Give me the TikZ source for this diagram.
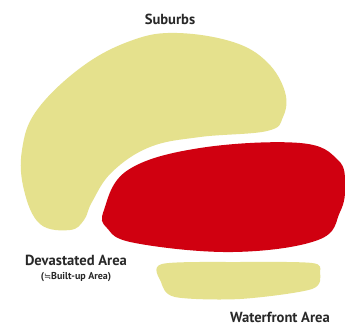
\documentclass[tikz,border=0pt]{standalone}
\usepackage{fontspec}
\setmainfont{PT Sans}
\newfontfamily\symfont{DejaVu Sans}
\definecolor{blobyellow}{RGB}{229,225,141}
\definecolor{blobred}{RGB}{208,0,16}
\definecolor{txt}{RGB}{40,40,40}
\begin{document}
\begin{tikzpicture}[x=1pt,y=-1pt,
  lbl/.style={text=txt,font=\bfseries\fontsize{14.6}{16}\selectfont,inner sep=0pt},
  sublbl/.style={text=txt,font=\bfseries\fontsize{10}{12}\selectfont,inner sep=0pt}]
\useasboundingbox (0,0) rectangle (345,329);
\fill[white] (0,0) rectangle (345,329);
% suburbs blob
\fill[blobyellow] plot[smooth cycle,tension=0.65] coordinates {
 (177,33) (233,42) (267,62) (285,92) (283,117) (267,131) (200,137)
 (150,147) (112,172) (92,202) (84,220) (70,230) (40,224) (24,190)
 (22,150) (37,110) (83,66) (133,40)};
% devastated blob
\fill[blobred] plot[smooth cycle,tension=0.65] coordinates {
 (104,210) (128,170) (200,148) (300,143) (338,160) (345,185)
 (340,212) (318,240) (233,252) (135,243) (107,228)};
% waterfront blob
\fill[blobyellow] plot[smooth cycle,tension=0.5] coordinates {
 (162,264) (240,262) (312,263) (320,272) (312,289) (240,299)
 (175,297) (161,282)};
\node[lbl] (sub) at (170,19) {Suburbs};
\node[lbl] (dev) at (76,260) {Devastated Area};
\node[sublbl] (built) at (76,277) {({\symfont\mdseries\fontsize{8.5}{10}\selectfont ≒}Built-up Area)};
\node[lbl] (wf) at (280,317) {Waterfront Area};
\end{tikzpicture}
\end{document}
